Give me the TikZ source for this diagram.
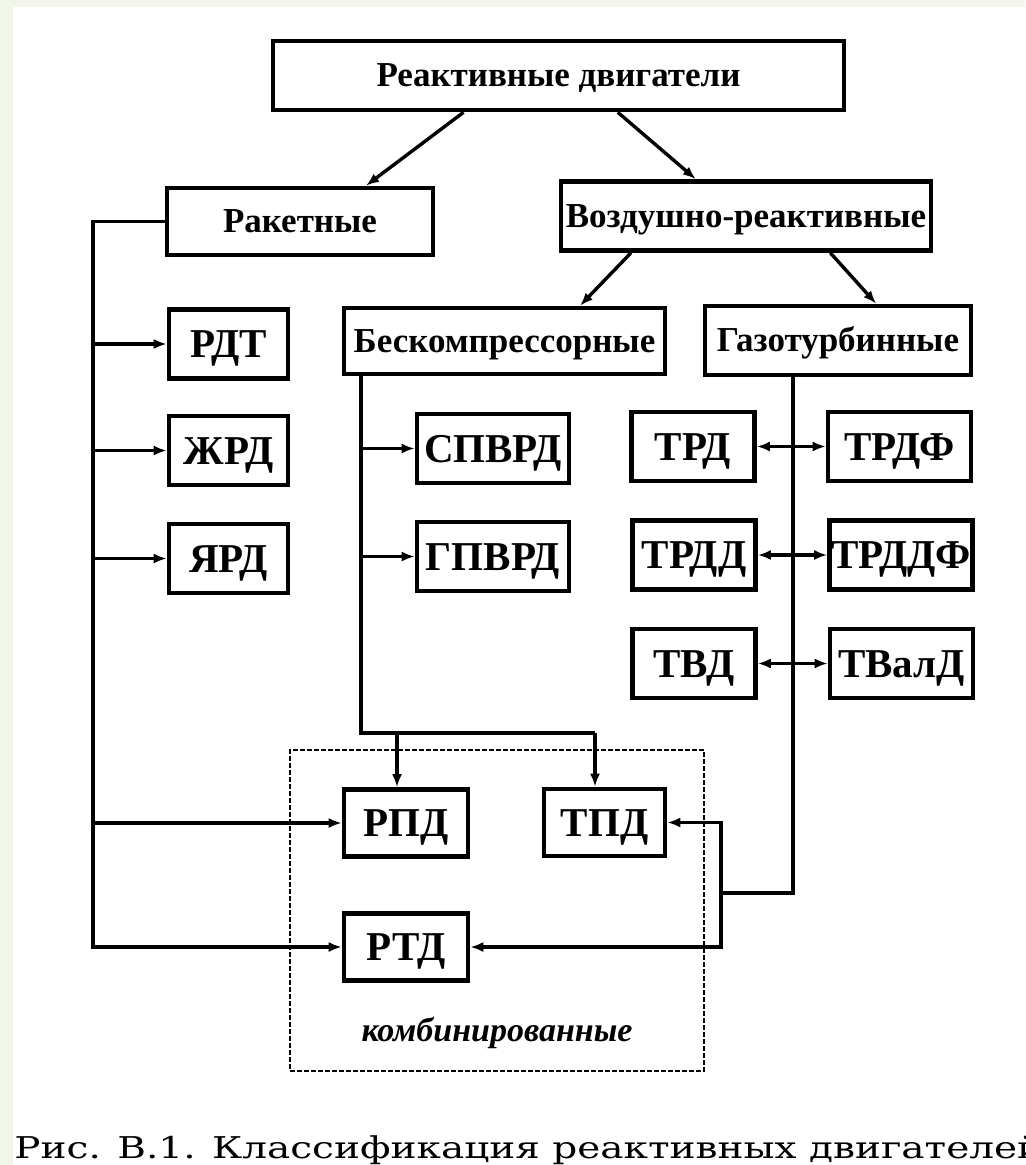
\documentclass[tikz,border=0pt]{standalone}
\usepackage{fontspec}
\setmainfont{Liberation Serif}
\newfontfamily\capfont[FakeStretch=1.3]{DejaVu Serif}
\usetikzlibrary{calc}
\usetikzlibrary{arrows.meta}
\definecolor{slidebg}{RGB}{242,245,233}

\begin{document}
\begin{tikzpicture}[x=0.5pt, y=-0.5pt,
  box/.style={draw, line width=2.3pt, inner sep=0pt, minimum height=34.5pt, text height=11.5pt, text depth=0pt, font=\bfseries\fontsize{17.5}{20}\selectfont},
  abbr/.style={box, text height=13.5pt, font=\bfseries\fontsize{20.5}{24}\selectfont},
  conn/.style={line width=1.7pt},
  arr/.style={conn, -{Latex[length=6.5pt, width=5pt]}},
  dbl/.style={conn, {Latex[length=6.5pt, width=5pt]}-{Latex[length=6.5pt, width=5pt]}}]
\useasboundingbox (0, 0) rectangle (1025, 1165);
\fill [slidebg] (0, 0) rectangle (1025, 1165);
\fill [white] (13, 7) rectangle (1025, 1165);

\node [box, minimum width=285.5pt] (top) at (558.5, 75.5) {Реактивные двигатели};
\node [box, minimum width=133pt, minimum height=33.5pt] (rocket) at (300, 221.5) {Ракетные};
\node [box, minimum width=185pt] (air) at (746, 216) {Воздушно-реактивные};
\node [box, minimum width=160.5pt, minimum height=33pt] (nocomp) at (504.5, 341) {Бескомпрессорные};
\node [box, minimum width=133pt] (gasturb) at (838, 340.5) {Газотурбинные};

\node [abbr, minimum width=59.5pt] (rdt) at (228.5, 344) {РДТ};
\node [abbr, minimum width=59.5pt] (zhrd) at (228.5, 450.5) {ЖРД};
\node [abbr, minimum width=59.5pt] (yard) at (228.5, 558.5) {ЯРД};

\node [abbr, minimum width=76pt] (spvrd) at (493, 448.5) {СПВРД};
\node [abbr, minimum width=76pt] (gpvrd) at (493, 556.5) {ГПВРД};

\node [abbr, minimum width=61.5pt] (trd) at (693, 446.5) {ТРД};
\node [abbr, minimum width=71.5pt] (trdf) at (899.5, 446.5) {ТРДФ};
\node [abbr, minimum width=61.5pt] (trdd) at (694, 555) {ТРДД};
\node [abbr, minimum width=71.5pt] (trddf) at (901, 555) {ТРДДФ};
\node [abbr, minimum width=61.5pt] (tvd) at (694, 663.5) {ТВД};
\node [abbr, minimum width=71.5pt] (tvald) at (901.5, 663.5) {ТВалД};

\node [draw, line width=1pt, dash pattern=on 2.5pt off 1pt, minimum width=207pt, minimum height=160.5pt, inner sep=0pt] (combo) at (497, 910.5) {};
\node [abbr, minimum width=62pt, minimum height=33.5pt] (rpd) at (406, 823) {РПД};
\node [abbr, minimum width=60.5pt, minimum height=33.5pt] (tpd) at (604.5, 822.5) {ТПД};
\node [abbr, minimum width=62pt, minimum height=33.5pt] (rtd) at (406, 947) {РТД};
\node [font=\bfseries\itshape\fontsize{17}{20}\selectfont] (combolabel) at (497, 1033) {комбинированные};

\draw [arr] ($(top.south west)!0.335!(top.south east)$) -- ($(rocket.north west)!0.744!(rocket.north east)$);
\draw [arr] ($(top.south west)!0.603!(top.south east)$) -- ($(air.north west)!0.366!(air.north east)$);
\draw [arr] ($(air.south west)!0.193!(air.south east)$) -- ($(nocomp.north west)!0.732!(nocomp.north east)$);
\draw [arr] ($(air.south west)!0.725!(air.south east)$) -- ($(gasturb.north west)!0.641!(gasturb.north east)$);

\coordinate (rbus) at (93, 947);
\draw [arr] (rocket.west) -| (rbus) -- (rtd.west);
\foreach \n in {rdt, zhrd, yard, rpd}
  \draw [arr] (\n.west -| rbus) -- (\n.west);

\coordinate (nbus) at (361, 733);
\coordinate (rpdin) at (397, 733);
\coordinate (tpdin) at (595, 733);
\draw [conn] (nocomp.south -| nbus) -- (nbus) -- (tpdin);
\foreach \n in {spvrd, gpvrd}
  \draw [arr] (\n.west -| nbus) -- (\n.west);
\draw [arr] (rpdin) -- (rpdin |- rpd.north);
\draw [arr] (tpdin) -- (tpdin |- tpd.north);

\coordinate (gbus) at (793, 893);
\coordinate (ghook) at (721, 893);
\draw [conn] (gasturb.south -| gbus) -- (gbus) -- (ghook);
\draw [arr] (ghook) |- (tpd.east);
\draw [arr] (ghook) |- (rtd.east);
\draw [dbl] (trd) -- (trdf);
\draw [dbl] (trdd) -- (trddf);
\draw [dbl] (tvd) -- (tvald);

\node [anchor=base west, inner sep=0pt, font=\capfont\fontsize{15}{18}\selectfont] (caption) at (14, 1158) {Рис. В.1. Классификация реактивных двигателей};
\end{tikzpicture}
\end{document}
